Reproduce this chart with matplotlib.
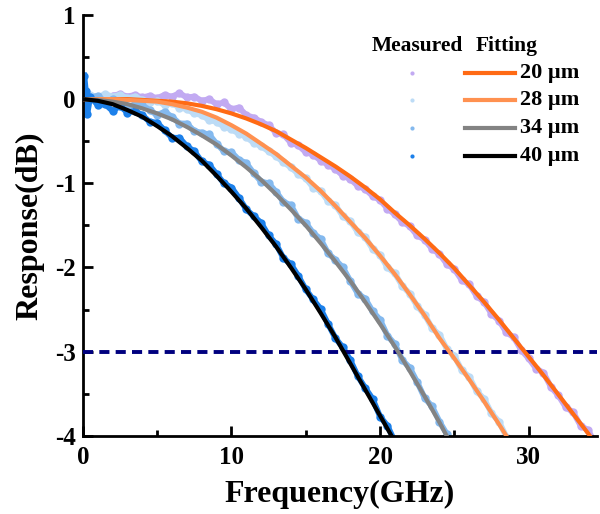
import numpy as np
import matplotlib
matplotlib.use("Agg")
import matplotlib.pyplot as plt
from matplotlib.ticker import MultipleLocator

plt.rcParams['font.family'] = 'Liberation Serif'
plt.rcParams['font.weight'] = 'bold'
plt.rcParams['axes.unicode_minus'] = False

labels = ['20 µm', '28 µm', '34 µm', '40 µm']

# fitted curves, 1 GHz grid
fit_20 = [0, 0.00, 0.00, 0.00, -0.01, -0.02, -0.03, -0.05, -0.08, -0.12, -0.17, -0.23, -0.30, -0.38,
          -0.48, -0.58, -0.69, -0.80, -0.92, -1.05, -1.19, -1.35, -1.50, -1.66, -1.83, -2.01, -2.21,
          -2.41, -2.62, -2.84, -3.06, -3.28, -3.51, -3.74, -3.97, -4.22]
fit_28 = [0, 0.00, 0.00, -0.01, -0.02, -0.03, -0.06, -0.10, -0.15, -0.22, -0.31, -0.41, -0.53, -0.65,
          -0.79, -0.93, -1.09, -1.27, -1.46, -1.65, -1.86, -2.08, -2.32, -2.57, -2.84, -3.08, -3.33,
          -3.59, -3.86, -4.14]
fit_34 = [0, -0.01, -0.03, -0.06, -0.11, -0.17, -0.24, -0.33, -0.43, -0.54, -0.67, -0.81, -0.96, -1.13,
          -1.31, -1.50, -1.71, -1.93, -2.16, -2.41, -2.67, -2.94, -3.23, -3.53, -3.84, -4.17]
fit_40 = [0, -0.02, -0.06, -0.13, -0.21, -0.32, -0.44, -0.58, -0.73, -0.91, -1.10, -1.30, -1.52, -1.75,
          -2.00, -2.26, -2.54, -2.83, -3.14, -3.45, -3.76, -4.07]

# measured data, 0.5 GHz grid
meas_20 = [0.00, 0.03, 0.01, 0.04, 0.06, 0.03, 0.05, 0.02, 0.04, 0.01, 0.05, 0.03, 0.07, 0.02, 0.03,
           -0.02, 0.00, -0.06, -0.04, -0.12, -0.10, -0.19, -0.22, -0.27, -0.31, -0.40, -0.42, -0.52,
           -0.55, -0.63, -0.66, -0.73, -0.78, -0.83, -0.91, -0.95, -1.03, -1.07, -1.15, -1.20, -1.30,
           -1.37, -1.46, -1.51, -1.62, -1.67, -1.78, -1.84, -1.96, -2.02, -2.15, -2.20, -2.34, -2.41,
           -2.55, -2.63, -2.77, -2.83, -2.98, -3.08, -3.20, -3.25, -3.42, -3.52, -3.66, -3.72, -3.88,
           -3.93, -4.10]
meas_28 = [0.05, 0.02, 0.06, 0.03, 0.05, 0.01, 0.03, -0.01, -0.03, -0.02, -0.07, -0.05, -0.10, -0.12,
           -0.17, -0.19, -0.25, -0.27, -0.33, -0.36, -0.41, -0.45, -0.52, -0.56, -0.62, -0.68, -0.75,
           -0.81, -0.89, -0.94, -1.05, -1.09, -1.21, -1.26, -1.39, -1.45, -1.58, -1.64, -1.78, -1.85,
           -2.00, -2.07, -2.22, -2.31, -2.46, -2.56, -2.72, -2.80, -2.97, -3.05, -3.22, -3.30, -3.47,
           -3.56, -3.73, -3.83, -4.01, -4.10]
meas_34 = [0.02, 0.04, -0.03, 0.00, -0.04, -0.10, -0.06, -0.07, -0.13, -0.19, -0.15, -0.21, -0.29, -0.29,
           -0.38, -0.40, -0.42, -0.53, -0.62, -0.63, -0.72, -0.76, -0.88, -0.98, -1.00, -1.10, -1.22,
           -1.26, -1.42, -1.47, -1.59, -1.66, -1.83, -1.91, -2.00, -2.16, -2.31, -2.37, -2.52, -2.62,
           -2.81, -2.91, -3.10, -3.19, -3.36, -3.55, -3.65, -3.83, -3.98, -4.15]
meas_40_f = [0.1, 0.2, 0.3] + [0.5 * i for i in range(1, 43)]
meas_40 = [0.28, 0.10, -0.18, 0.03, -0.07, -0.06, -0.14, -0.08, -0.16, -0.14, -0.19, -0.27, -0.28, -0.37,
           -0.46, -0.46, -0.56, -0.62, -0.74, -0.78, -0.89, -1.00, -1.05, -1.17, -1.31, -1.39, -1.47,
           -1.62, -1.72, -1.89, -1.96, -2.10, -2.26, -2.38, -2.49, -2.67, -2.84, -2.95, -3.10, -3.29,
           -3.43, -3.56, -3.77, -3.88, -4.07]

meas_colors = ['#c2aaf2', '#bddcf6', '#84b9ee', '#1c80ea']
fit_colors = ['#ff6a14', '#ff9150', '#838383', '#000000']

fits = [fit_20, fit_28, fit_34, fit_40]
meas = [meas_20, meas_28, meas_34, meas_40]
meas_f = [[0.5 * (i + 1) for i in range(len(meas_20))],
          [0.5 * (i + 1) for i in range(len(meas_28))],
          [0.5 * (i + 1) for i in range(len(meas_34))],
          meas_40_f]

fig = plt.figure(figsize=(6, 5.14), dpi=100)
ax = fig.add_axes([0.138, 0.152, 0.857, 0.819])

for f, m, c in zip(meas_f, meas, meas_colors):
    ax.plot(f, m, '-o', color=c, lw=4.2, ms=6, mew=0, zorder=2)

ax.axhline(-3, color='#00007f', lw=2.8, dashes=(2.6, 1.6), zorder=3)

for y, c in zip(fits, fit_colors):
    ax.plot(np.arange(len(y)), y, color=c, lw=3, zorder=4, solid_capstyle='butt')

ax.set_xlim(0, 34.6)
ax.set_ylim(-4, 1)
ax.xaxis.set_major_locator(MultipleLocator(10))
ax.xaxis.set_minor_locator(MultipleLocator(5))
ax.yaxis.set_major_locator(MultipleLocator(1))
ax.yaxis.set_minor_locator(MultipleLocator(0.5))
ax.spines['top'].set_visible(False)
ax.spines['right'].set_visible(False)
for s in ['left', 'bottom']:
    ax.spines[s].set_linewidth(2)
ax.tick_params(which='both', direction='in', width=2, labelsize=18)
ax.tick_params(which='major', length=7)
ax.tick_params(which='minor', length=4)
ax.tick_params(axis='x', pad=7)
ax.tick_params(axis='y', pad=5)
ax.set_xlabel('Frequency(GHz)', fontsize=23, fontweight='bold')
ax.set_ylabel('Response(dB)', fontsize=23, fontweight='bold')
ax.xaxis.set_label_coords(0.5, -0.105)
ax.yaxis.set_label_coords(-0.075, 0.5)

# legend drawn by hand
T = ax.transAxes
ax.text(0.561, 0.926, 'Measured', transform=T, fontsize=15.5, fontweight='bold', va='center')
ax.text(0.765, 0.926, 'Fitting', transform=T, fontsize=15.5, fontweight='bold', va='center')
rows = [0.863, 0.797, 0.731, 0.664]
for yy, mc, fc, lab in zip(rows, meas_colors, fit_colors, labels):
    ax.plot([0.64], [yy], 'o', color=mc, ms=3, mew=0, transform=T, clip_on=False)
    ax.plot([0.743, 0.84], [yy, yy], color=fc, lw=3, transform=T, clip_on=False)
    ax.text(0.85, yy, lab, transform=T, fontsize=16, fontweight='bold', va='center')

fig.savefig('out.png', dpi=100)
